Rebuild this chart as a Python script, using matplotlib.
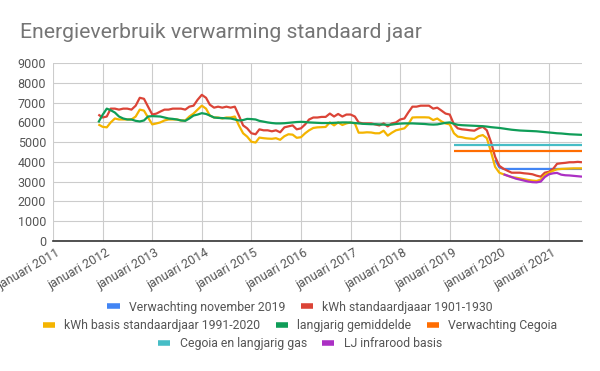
import matplotlib
matplotlib.use("Agg")
import matplotlib.pyplot as plt
import matplotlib.dates as mdates
from matplotlib.lines import Line2D
import matplotlib.transforms as mtransforms
import pandas as pd
import numpy as np

plt.rcParams['font.family'] = ['Roboto', 'DejaVu Sans']

# ---------------- data ----------------
title = "Energieverbruik verwarming standaard jaar"
series_names = [
    "Verwachting november 2019",
    "kWh standaardjaaar 1901-1930",
    "kWh basis standaardjaar 1991-2020",
    "langjarig gemiddelde",
    "Verwachting Cegoia",
    "Cegoia en langjarig gas",
    "LJ infrarood basis",
]
colors = ["#4285F4", "#DB4437", "#F4B400", "#0F9D58", "#FF6D01", "#46BDC6", "#AB30C4"]

months = pd.date_range("2011-12-01", "2021-09-01", freq="MS")

red = [
    6400,
    6250, 6300, 6700, 6700, 6650, 6700, 6700, 6650, 6850, 7250, 7200, 6800,
    6400, 6450, 6550, 6650, 6650, 6700, 6700, 6700, 6650, 6800, 6850, 7150,
    7400, 7250, 6900, 6750, 6800, 6750, 6800, 6750, 6800, 6350, 5850, 5700,
    5450, 5400, 5650, 5600, 5600, 5550, 5600, 5500, 5750, 5800, 5850, 5650,
    5700, 5900, 6150, 6250, 6250, 6280, 6280, 6450, 6300, 6430, 6300, 6400,
    6400, 6300, 6000, 5950, 5950, 5950, 5900, 5850, 5950, 5800, 5950, 6000,
    6150, 6200, 6500, 6800, 6800, 6850, 6850, 6850, 6700, 6750, 6600, 6450,
    6400, 5900, 5700, 5650, 5630, 5600, 5580, 5700, 5780, 5600, 5000, 4260,
    3800, 3650, 3550, 3450, 3450, 3450, 3420, 3400, 3370, 3300, 3250, 3450,
    3500, 3650, 3900, 3930, 3950, 3980, 3980, 4000, 3980,
]
yellow = [
    5900,
    5780, 5750, 6000, 6200, 6150, 6150, 6150, 6150, 6300, 6650, 6600, 6250,
    5900, 5950, 6000, 6100, 6150, 6150, 6150, 6100, 6100, 6300, 6450, 6650,
    6850, 6700, 6350, 6250, 6250, 6200, 6250, 6250, 6300, 5850, 5450, 5280,
    5020, 4980, 5230, 5200, 5180, 5170, 5200, 5120, 5300, 5400, 5380, 5220,
    5250, 5450, 5600, 5720, 5750, 5760, 5770, 6000, 5850, 6000, 5870, 5950,
    6000, 5950, 5480, 5480, 5500, 5490, 5450, 5450, 5580, 5330, 5480, 5600,
    5650, 5700, 5900, 6250, 6260, 6260, 6260, 6250, 6120, 6200, 6050, 5950,
    5900, 5450, 5280, 5250, 5200, 5180, 5160, 5300, 5360, 5200, 4500, 3750,
    3450, 3370, 3300, 3220, 3200, 3160, 3120, 3080, 3050, 3030, 3100, 3330,
    3450, 3550, 3620, 3640, 3650, 3660, 3670, 3670, 3670,
]
green = [
    6000,
    6380, 6700, 6620, 6500, 6300, 6200, 6150, 6150, 6080, 6050, 6100, 6300,
    6320, 6310, 6300, 6250, 6200, 6180, 6150, 6100, 6080, 6200, 6350, 6400,
    6470, 6430, 6350, 6250, 6230, 6220, 6210, 6200, 6150, 6100, 6120, 6180,
    6170, 6150, 6080, 6040, 6000, 5970, 5950, 5950, 5960, 5980, 6000, 6020,
    6030, 6020, 6000, 5990, 5980, 5970, 5970, 5970, 5980, 5990, 6000, 6000,
    5990, 5970, 5950, 5930, 5920, 5910, 5910, 5900, 5890, 5880, 5890, 5920,
    5940, 5950, 5950, 5950, 5940, 5930, 5920, 5900, 5890, 5900, 5940, 5980,
    6000, 5930, 5880, 5860, 5850, 5840, 5830, 5820, 5810, 5790, 5760, 5740,
    5720, 5690, 5660, 5630, 5610, 5590, 5580, 5570, 5560, 5550, 5530, 5510,
    5490, 5470, 5450, 5440, 5420, 5400, 5390, 5380, 5370,
]
blue_dates = pd.date_range("2019-12-01", "2021-09-01", freq="MS")
blue = [
    4100,
    3720, 3640, 3640, 3640, 3640, 3640, 3640, 3640, 3640, 3640, 3640, 3640,
    3640, 3640, 3640, 3640, 3640, 3640, 3640, 3640, 3640,
]
purple_dates = pd.date_range("2020-02-01", "2021-09-01", freq="MS")
purple = [
    3370, 3300, 3230, 3150, 3100, 3050, 3000, 2970, 2960, 3000, 3230,
    3370, 3420, 3440, 3350, 3320, 3310, 3290, 3270, 3250,
]
flat_dates = pd.to_datetime(["2019-02-01", "2021-09-01"])
orange = [4530, 4530]
cyan = [4850, 4850]

yticks = [0, 1000, 2000, 3000, 4000, 5000, 6000, 7000, 8000, 9000]
xtick_years = list(range(2011, 2022))

# ---------------- figure ----------------
W, H = 600, 371
fig = plt.figure(figsize=(W / 100, H / 100), dpi=100)
ax = fig.add_axes([53 / W, 1 - 240.7 / H, (582 - 53) / W, (240.7 - 63.3) / H])

xs = [blue_dates, months, months, months, flat_dates, flat_dates, purple_dates]
ys = [blue, red, yellow, green, orange, cyan, purple]
for i, (x, y) in enumerate(zip(xs, ys)):
    ax.plot(x, y, color=colors[i], lw=1.6, solid_joinstyle='round',
            solid_capstyle='butt', zorder=3 + i)

ax.set_ylim(0, 9000)
ax.set_yticks(yticks)
ax.set_yticklabels([str(v) for v in yticks])
ax.set_xlim(pd.Timestamp("2011-01-01"), months[-1])
xt = [pd.Timestamp(f"{y}-01-01") for y in xtick_years]
ax.set_xticks(xt)
ax.set_xticklabels([f"januari {y}" for y in xtick_years])

ax.grid(True, color="#cccccc", lw=0.8, zorder=0)
ax.set_axisbelow(True)
for s in ["left", "right", "top"]:
    ax.spines[s].set_visible(False)
ax.spines["bottom"].set_color("#333333")
ax.spines["bottom"].set_linewidth(1.2)
ax.spines["bottom"].set_zorder(20)

ax.tick_params(axis="both", length=0, labelcolor="#555555", labelsize=9)
ax.tick_params(axis="y", pad=5)
ax.tick_params(axis="x", pad=8)
offset = mtransforms.ScaledTranslation(6 / 100, 0, fig.dpi_scale_trans)
for lab in ax.get_xticklabels():
    lab.set_rotation(30)
    lab.set_ha("right")
    lab.set_va("center")
    lab.set_rotation_mode("anchor")
    lab.set_transform(lab.get_transform() + offset)

fig.text(20 / W, 1 - 38.3 / H, title, fontsize=15.2, color="#757575",
         ha="left", va="baseline")

# ---------------- legend (3 centered rows) ----------------
rows = [[0, 1], [2, 3, 4], [5, 6]]
row_y = [307, 325.5, 343.5]
for r, ry in zip(rows, row_y):
    handles = [Line2D([0], [0], color=colors[i], lw=4, solid_capstyle="butt") for i in r]
    labels = [series_names[i] for i in r]
    fig.legend(handles, labels, loc="center", bbox_to_anchor=(0.5, 1 - ry / H),
               ncol=len(r), frameon=False, fontsize=8.8, handlelength=1.0,
               handletextpad=0.75, columnspacing=1.25, borderpad=0,
               labelcolor="#555555")

fig.savefig("out.png", dpi=100)
